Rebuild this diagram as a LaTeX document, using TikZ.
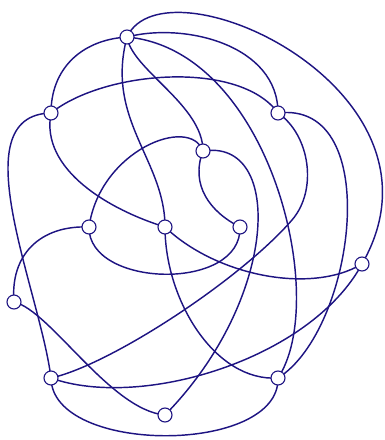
\documentclass[tikz,border=0pt]{standalone}
\definecolor{navy}{RGB}{30,20,130}
\pgfdeclarelayer{bg}
\pgfsetlayers{bg,main}
\tikzset{
  vtx/.style={circle,draw=navy,fill=white,line width=1.1pt,minimum size=14pt,inner sep=0pt},
  edg/.style={draw=navy,line width=1.45pt}
}
\begin{document}
\begin{tikzpicture}[x=1pt,y=-1pt]
\useasboundingbox (0,0) rectangle (384,440);
\node[vtx] (A) at (127,37) {};
\node[vtx] (B) at (51,113) {};
\node[vtx] (C) at (278,113) {};
\node[vtx] (D) at (203,151) {};
\node[vtx] (E) at (89,227) {};
\node[vtx] (F) at (165,227) {};
\node[vtx] (G) at (240,227) {};
\node[vtx] (H) at (362,264) {};
\node[vtx] (I) at (14,302) {};
\node[vtx] (J) at (51,378) {};
\node[vtx] (K) at (278,378) {};
\node[vtx] (L) at (165,415) {};
\coordinate (cj) at (292,220);
\begin{pgfonlayer}{bg}
\path[edg] (A.center) .. controls (80,40) and (51,70) .. (B.center);
\path[edg] (A.center) .. controls (165,-45) and (462,90) .. (H.center);
\path[edg] (A.center) .. controls (185,22) and (278,45) .. (C.center);
\path[edg] (A.center) .. controls (132,70) and (203,105) .. (D.center);
\path[edg] (A.center) .. controls (105,120) and (165,160) .. (F.center);
\path[edg] (A.center) .. controls (270,50) and (330,300) .. (K.center);
\path[edg] (B.center) .. controls (105,70) and (240,60) .. (C.center);
\path[edg] (B.center) .. controls (-40,115) and (40,290) .. (J.center);
\path[edg] (B.center) .. controls (40,170) and (110,210) .. (F.center);
\path[edg] (C.center) .. controls (385,100) and (355,330) .. (K.center);
\path[edg] (C.center) .. controls (310,135) and (318,190) .. (cj) .. controls (240,280) and (110,365) .. (J.center);
\path[edg] (D.center) .. controls (190,115) and (100,150) .. (E.center);
\path[edg] (D.center) .. controls (190,185) and (210,212) .. (G.center);
\path[edg] (D.center) .. controls (285,138) and (278,300) .. (L.center);
\path[edg] (E.center) .. controls (40,225) and (10,255) .. (I.center);
\path[edg] (E.center) .. controls (88,288) and (242,292) .. (G.center);
\path[edg] (F.center) .. controls (215,275) and (310,295) .. (H.center);
\path[edg] (F.center) .. controls (165,300) and (215,382) .. (K.center);
\path[edg] (H.center) .. controls (310,360) and (140,410) .. (J.center);
\path[edg] (I.center) .. controls (50,310) and (110,410) .. (L.center);
\path[edg] (J.center) .. controls (52,455) and (280,455) .. (K.center);
\end{pgfonlayer}
\end{tikzpicture}
\end{document}
